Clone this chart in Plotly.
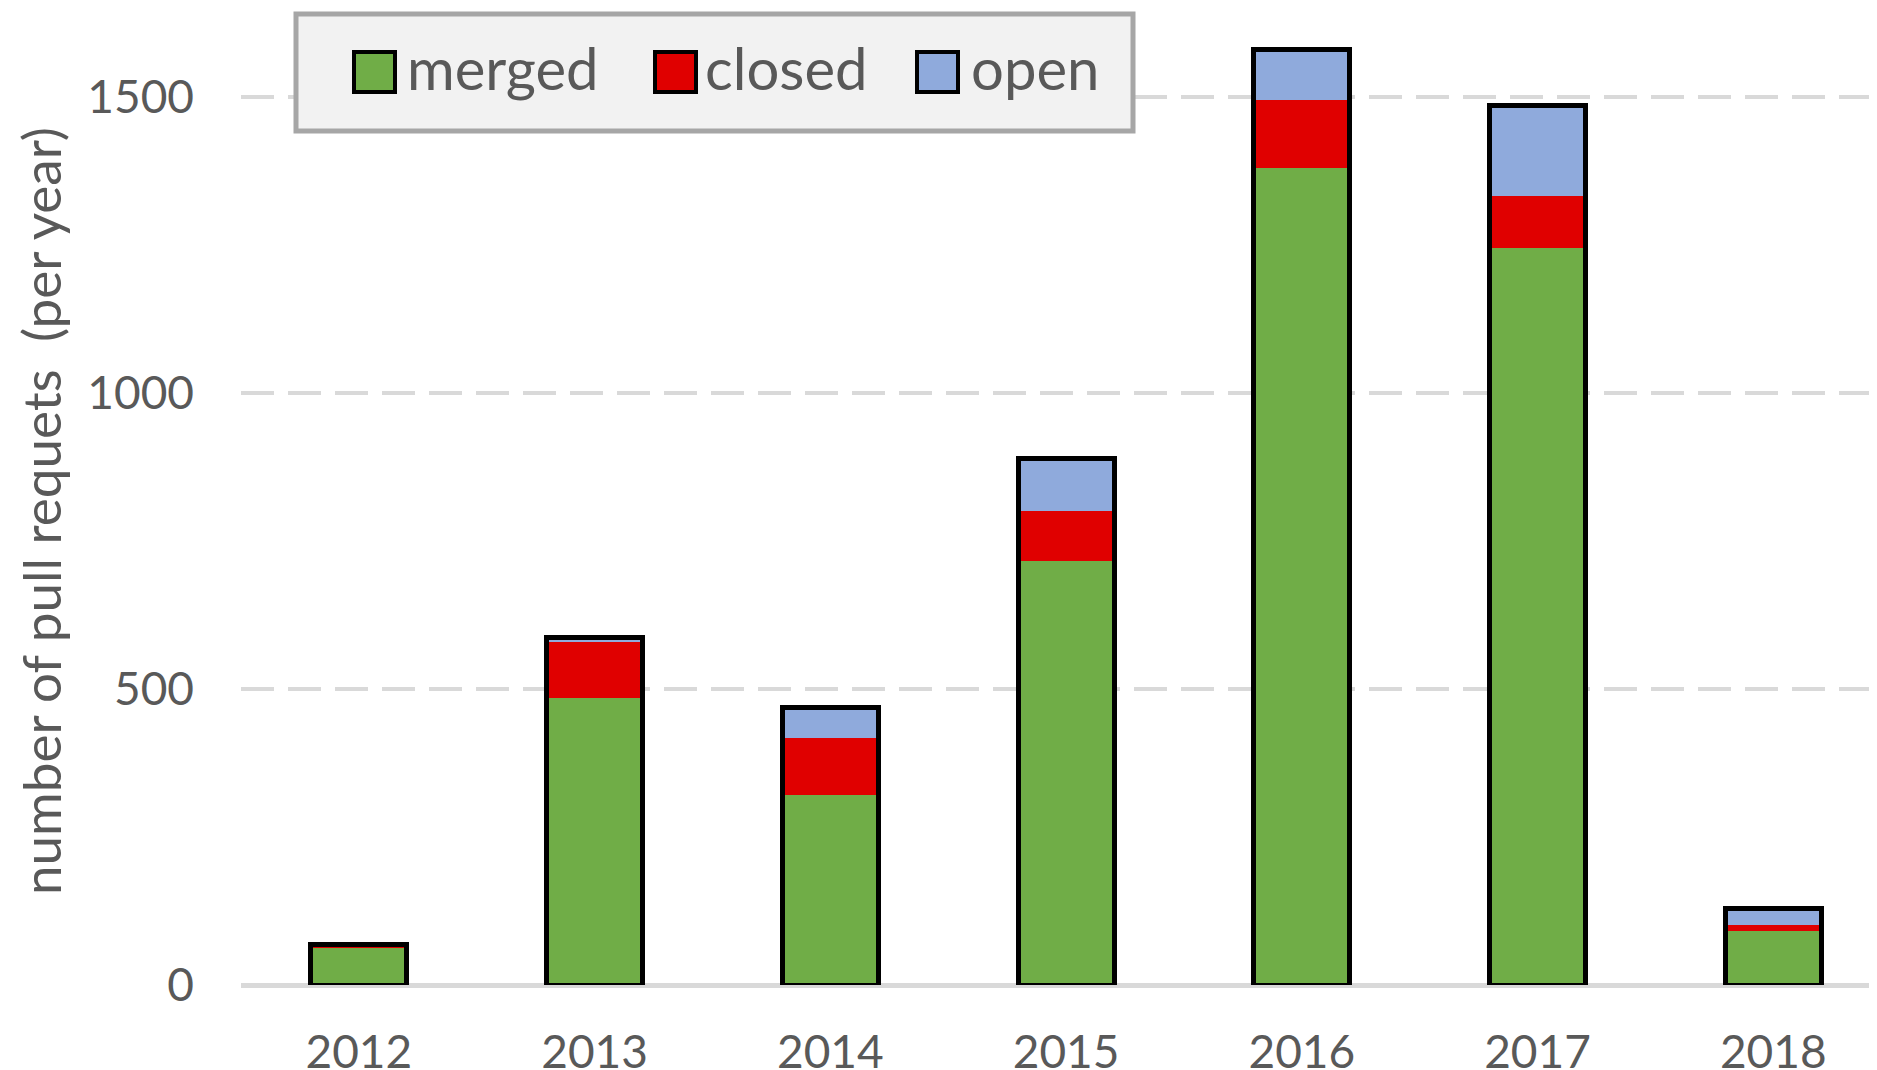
import plotly.graph_objects as go

# ---- data ----
years = ["2012", "2013", "2014", "2015", "2016", "2017", "2018"]
merged = [62, 485, 321, 716, 1380, 1245, 91]
closed = [7, 94, 96, 85, 114, 87, 10]
open_ = [0, 8, 51, 89, 86, 153, 29]
series_names = ["merged", "closed", "open"]
y_ticks = [0, 500, 1000, 1500]

totals = [m + c + o for m, c, o in zip(merged, closed, open_)]

# ---- style ----
W, H = 1877, 1070
OFF = 8  # page body margin offset of the figure in the browser
ML, MR, MT, MB = 241 - OFF, OFF, 0, 1070 - 985 + OFF
colors = ["#70ad47", "#e00000", "#8faadc"]
FONT = "Lato"
TXT = "#595959"
GRID = "#d9d9d9"
BAR_W = 0.407

fig = go.Figure()
for name, vals, col in zip(series_names, [merged, closed, open_], colors):
    fig.add_trace(go.Bar(x=years, y=vals, name=name, width=BAR_W,
                         marker=dict(color=col, line=dict(width=0)),
                         showlegend=False))

# outline around each stacked column
fig.add_trace(go.Bar(x=years, y=totals, xaxis="x2", width=BAR_W,
                     marker=dict(color="rgba(0,0,0,0)", line=dict(color="black", width=5)),
                     showlegend=False, hoverinfo="skip"))

xr = [-0.5, 6.44]
fig.update_layout(
    width=W, height=H,
    margin=dict(l=ML, r=MR, t=MT, b=MB, autoexpand=False),
    barmode="stack",
    paper_bgcolor="white", plot_bgcolor="white",
    font=dict(family=FONT, color=TXT),
    xaxis=dict(type="category", range=xr, showgrid=False, zeroline=False,
               showline=False, ticks="", automargin=False,
               tickfont=dict(size=46, color=TXT, family=FONT),
               ticklabelstandoff=36),
    xaxis2=dict(type="category", range=xr, overlaying="x", visible=False,
                matches="x"),
    yaxis=dict(range=[0, 1650], tickvals=y_ticks, showgrid=True,
               gridcolor=GRID, gridwidth=4, griddash="33px,14px",
               zeroline=True, zerolinecolor=GRID, zerolinewidth=5,
               showline=False, ticks="", automargin=False,
               tickfont=dict(size=46, color=TXT, family=FONT),
               ticklabelstandoff=46),
)

# ---- axis title & custom legend (layout decoration in paper coords) ----
def px(xs):
    return (xs - OFF - ML) / (W - ML - MR)

def py(ys):
    return (H - MB - (ys - OFF)) / (H - MT - MB)

fig.add_annotation(xref="paper", yref="paper", x=px(40), y=py(511),
                   xanchor="center", yanchor="middle", showarrow=False, textangle=-90,
                   text="number of pull requets  (per year)",
                   font=dict(size=53, color=TXT, family=FONT))

fig.add_shape(type="rect", xref="paper", yref="paper",
              x0=px(296), x1=px(1133), y0=py(131), y1=py(14),
              fillcolor="#f2f2f2", line=dict(color="#a6a6a6", width=5), layer="above")

sq_left = [354, 655, 917]
txt_left = [405, 703, 969]
for name, col, sx, tx in zip(series_names, colors, sq_left, txt_left):
    fig.add_shape(type="rect", xref="paper", yref="paper",
                  x0=px(sx), x1=px(sx + 41), y0=py(92), y1=py(52),
                  fillcolor=col, line=dict(color="black", width=4), layer="above")
    fig.add_annotation(xref="paper", yref="paper", x=px(tx), y=py(68),
                       xanchor="left", yanchor="middle", showarrow=False,
                       text=name, font=dict(size=58, color=TXT, family=FONT))

fig.write_html("out.html")
